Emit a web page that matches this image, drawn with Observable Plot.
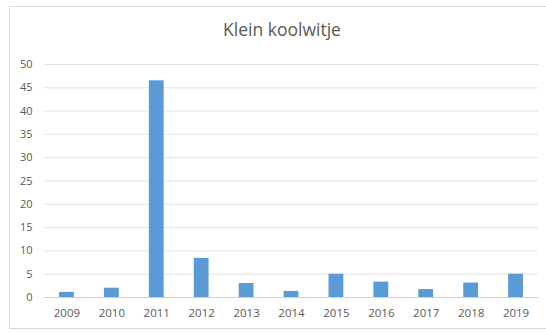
<!DOCTYPE html>
<html>
<head>
<meta charset="utf-8">
<script src="https://cdn.jsdelivr.net/npm/d3@7"></script>
<script src="https://cdn.jsdelivr.net/npm/@observablehq/plot@0.6"></script>
<style>
  html, body { margin: 0; padding: 0; background: #fff; }
  body { width: 546px; height: 332px; position: relative; overflow: hidden; font-family: "Open Sans", sans-serif; }
  #frame { position: absolute; left: 9px; top: 6px; width: 545px; height: 323px; border: 1px solid #d9d9d9; box-sizing: border-box; }
  #title { position: absolute; left: 0; width: 564px; top: 17px; text-align: center; font-size: 17.5px; color: #595959; line-height: 24px; }
  #chart { position: absolute; left: 0; top: 0; }
</style>
</head>
<body>
<div id="frame"></div>
<div id="title">Klein koolwitje</div>
<div id="chart"></div>
<script>
const years = ["2009","2010","2011","2012","2013","2014","2015","2016","2017","2018","2019"];
const counts = [1.1, 2, 46.5, 8.4, 3, 1.3, 5, 3.3, 1.7, 3.1, 5];
const yTicks = [0,5,10,15,20,25,30,35,40,45,50];

const data = years.map((y, i) => ({year: y, value: counts[i]}));

const chart = Plot.plot({
  width: 546,
  height: 332,
  marginLeft: 44,
  marginRight: 8,
  marginTop: 64,
  marginBottom: 35,
  style: {fontFamily: "'Open Sans', sans-serif", fontSize: "11px", color: "#595959", background: "transparent"},
  x: {domain: years, paddingInner: 0.67, paddingOuter: 0.335, round: false, label: null},
  y: {domain: [0, 50], label: null},
  marks: [
    Plot.ruleY(yTicks.filter(d => d > 0), {stroke: "#e3e3e3", strokeWidth: 1}),
    Plot.ruleY([0], {stroke: "#d0d0d0", strokeWidth: 1}),
    Plot.barY(data, {x: "year", y: "value", fill: "#5b9bd5"}),
    Plot.axisX({tickSize: 0, tickPadding: 11, fontSize: 11.5, label: null}),
    Plot.axisY({ticks: yTicks, tickSize: 0, tickPadding: 12, fontSize: 11, label: null})
  ]
});
document.getElementById("chart").appendChild(chart);
</script>
</body>
</html>
